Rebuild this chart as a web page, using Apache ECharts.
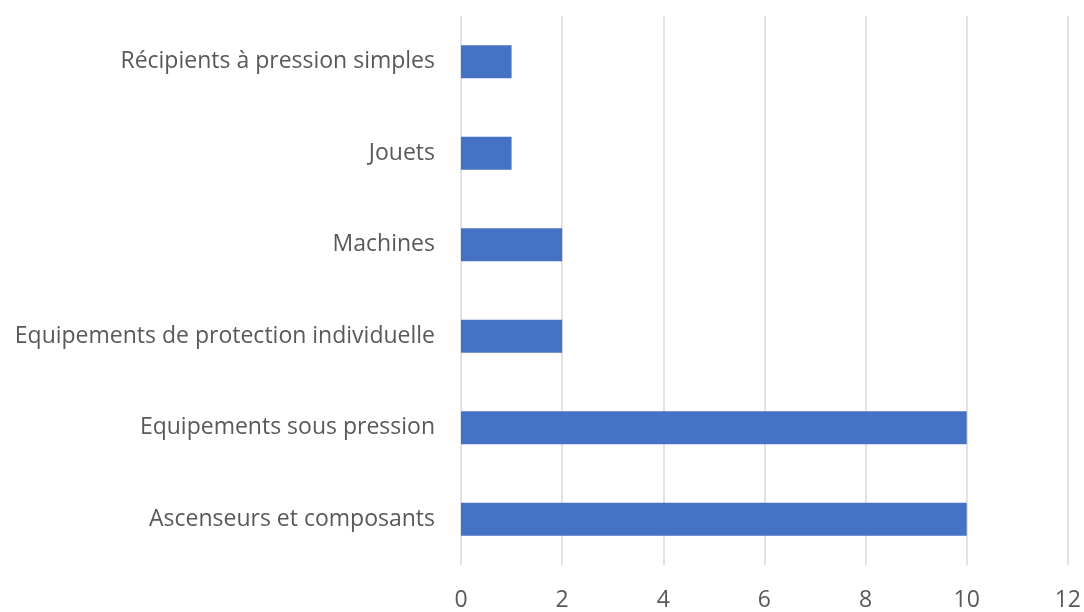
<!DOCTYPE html>
<html><head><meta charset="utf-8">
<script src="https://cdn.jsdelivr.net/npm/echarts@6/dist/echarts.min.js"></script>
<style>html,body{margin:0;padding:0;background:#fff}#c{width:1084px;height:612px}</style>
</head><body><div id="c"></div>
<script>
const categories = ["Ascenseurs et composants","Equipements sous pression","Equipements de protection individuelle","Machines","Jouets","Récipients à pression simples"];
const values = [10,10,2,2,1,1];
const chart = echarts.init(document.getElementById('c'), null, {renderer:'canvas'});
chart.setOption({
  animation:false,
  grid:{left:461,right:15,top:16,bottom:45,containLabel:false},
  xAxis:{type:'value',min:0,max:12,interval:2,
    axisLine:{show:false},axisTick:{show:false},
    splitLine:{lineStyle:{color:'#d9d9d9',width:1.5}},
    axisLabel:{color:'#595959',fontSize:23,fontFamily:'Open Sans',margin:24}},
  yAxis:{type:'category',data:categories,
    axisLine:{show:false},axisTick:{show:false},
    axisLabel:{color:'#595959',fontSize:23,fontFamily:'Open Sans',margin:26,padding:[0,0,6,0]}},
  series:[{type:'bar',data:values,barCategoryGap:'64%',itemStyle:{color:'#4472c4'}}]
});
</script></body></html>
